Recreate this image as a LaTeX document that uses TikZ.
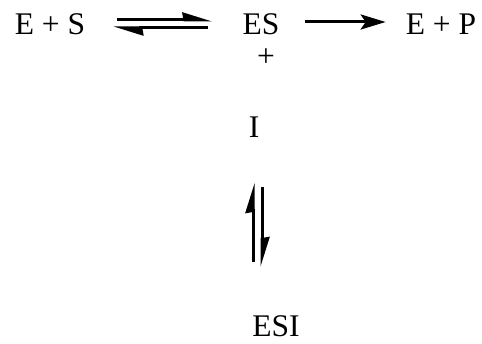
\documentclass[tikz,border=0pt]{standalone}
\usepackage{fontspec}
\setmainfont{Liberation Serif}
\usepackage{tikz}
\usetikzlibrary{arrows.meta, positioning, calc}

\begin{document}
\begin{tikzpicture}[
    x=1pt, y=1pt,
    font=\fontsize{31.5}{38}\selectfont,
    species/.style={inner sep=0pt, anchor=base},
    fwd/.style={-{Stealth[length=25pt, width=15pt, inset=5pt]}, line width=3pt},
    harp/.style={-{Stealth[harpoon, length=25pt, width=15pt, inset=1pt]}, line width=3pt}
]
\useasboundingbox (0,0) rectangle (482,344);

% Nodes
\node[species] (es) at (261,309) {ES};
\node[species] (esleft) at (50,309) {E + S};
\node[species] (ep) at (441,309) {E + P};
\node[species] (plus) at (266,277) {+};
\node[species] (inh) at (254,206) {I};
\node[species] (esi) at (276,7) {ESI};

% E + S <-> ES
\draw[harp] ([xshift=32pt, yshift=15pt]esleft.base east) -- ([xshift=-30pt, yshift=15pt]es.base west);
\draw[harp] ([xshift=-34pt, yshift=7pt]es.base west) -- ([xshift=28pt, yshift=7pt]esleft.base east);

% ES -> E + P
\draw[fwd] ([xshift=25pt, yshift=13pt]es.base east) -- ([xshift=-20pt, yshift=13pt]ep.base west);

% I <-> ESI
\draw[harp] ($(inh.base |- esi.base)+(-1pt,75pt)$) -- ($(inh.base)+(-1pt,-45pt)$);
\draw[harp] ($(inh.base)+(8pt,-49pt)$) -- ($(inh.base |- esi.base)+(8pt,70pt)$);

\end{tikzpicture}
\end{document}
